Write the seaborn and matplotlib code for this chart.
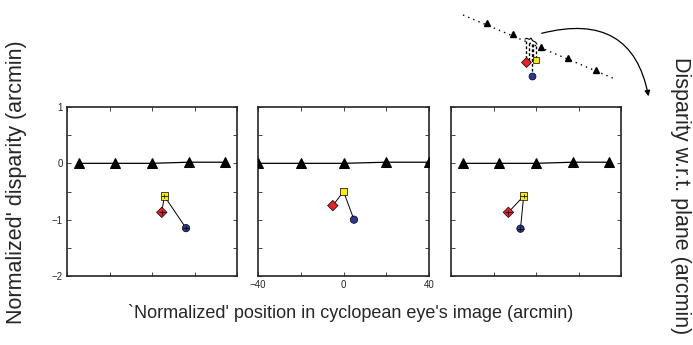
import numpy as np
import pandas as pd
import matplotlib
matplotlib.use("Agg")
import matplotlib.pyplot as plt
import seaborn as sns
from matplotlib.patches import FancyArrowPatch

sns.set_style("ticks")
plt.rcParams['font.family'] = ['Liberation Sans', 'DejaVu Sans']

# ---------------- data ----------------
panel_names = ["A", "B", "C"]
# reference triangles (x positions, normalized disparity)
tri_x = {"A": [-34.5, -17.3, 0.0, 17.3, 34.5],
         "B": [-40.0, -20.0, 0.0, 20.0, 40.0],
         "C": [-34.5, -17.3, 0.0, 17.3, 34.5]}
tri_y = {"A": [0.0, 0.0, 0.0, 0.02, 0.02],
         "B": [0.0, 0.0, 0.0, 0.02, 0.02],
         "C": [0.0, 0.0, 0.0, 0.02, 0.02]}
# target points: square (yellow), diamond (red), circle (blue)
sq_x = {"A": 5.8, "B": 0.0, "C": -5.8}
sq_y = {"A": -0.58, "B": -0.50, "C": -0.58}
di_x = {"A": 4.6, "B": -5.0, "C": -13.0}
di_y = {"A": -0.87, "B": -0.75, "C": -0.87}
ci_x = {"A": 16.0, "B": 4.9, "C": -7.3}
ci_y = {"A": -1.15, "B": -1.00, "C": -1.16}
# small error bars (panels A and C)
err_x = {"A": 1.5, "B": 0.0, "C": 1.5}
err_y = {"A": 0.04, "B": 0.0, "C": 0.04}

x_ticks = [-40, -20, 0, 20, 40]
x_ticklabels = ["\u221240", "", "0", "", "40"]
y_ticks = [1, 0.5, 0, -0.5, -1, -1.5, -2]
y_ticklabels = ["1", "", "0", "", "\u22121", "", "\u22122"]

xlabel = "`Normalized' position in cyclopean eye's image (arcmin)"
ylabel = "Normalized' disparity (arcmin)"
rlabel = "Disparity w.r.t. plane (arcmin)"

# schematic (inset) in its own pixel-like coordinates
sch_plane_x = [463, 615]
sch_plane_y = [15, 79]
sch_tri_x = [486.7, 513.3, 541.0, 568.3, 595.7]
sch_tri_y = [23.3, 34.3, 46.7, 58.3, 70.0]
sch_di = (525.7, 62.3)
sch_sq = (535.7, 60.3)
sch_ci = (532.0, 76.3)

YELLOW = "#f7e81c"
RED = "#e3222b"
BLUE = "#2b3990"

W, H = 693, 345
fig = plt.figure(figsize=(W / 100, H / 100), dpi=100)

boxes = {"A": (67, 107, 170, 169), "B": (258, 107, 171, 169), "C": (451, 107, 170, 169)}

for name in panel_names:
    l, t, w, h = boxes[name]
    ax = fig.add_axes([l / W, 1 - (t + h) / H, w / W, h / H])
    tri = pd.DataFrame({"x": tri_x[name], "y": tri_y[name]})
    sns.lineplot(data=tri, x="x", y="y", ax=ax, color="black", lw=0.9,
                 marker="^", markersize=6.5, markeredgecolor="black",
                 markerfacecolor="black", sort=False, zorder=3)
    ax.plot([sq_x[name], di_x[name]], [sq_y[name], di_y[name]], color="black", lw=0.7, zorder=2)
    ax.plot([sq_x[name], ci_x[name]], [sq_y[name], ci_y[name]], color="black", lw=0.7, zorder=2)
    pts = pd.DataFrame({"x": [sq_x[name], di_x[name], ci_x[name]],
                        "y": [sq_y[name], di_y[name], ci_y[name]],
                        "k": ["sq", "di", "ci"]})
    sns.scatterplot(data=pts, x="x", y="y", hue="k", style="k",
                    palette={"sq": YELLOW, "di": RED, "ci": BLUE},
                    markers={"sq": "s", "di": "D", "ci": "o"},
                    s=28, edgecolor="black", linewidth=0.5, legend=False, ax=ax, zorder=4)
    if err_x[name] > 0:
        ax.errorbar(pts["x"], pts["y"], xerr=err_x[name], yerr=err_y[name],
                    fmt="none", ecolor="black", elinewidth=0.5, capsize=0, zorder=5)
    ax.set_xlim(-40, 40)
    ax.set_ylim(-2, 1)
    ax.set_xticks(x_ticks)
    ax.set_yticks(y_ticks)
    ax.set_xticklabels(x_ticklabels if name == "B" else [""] * len(x_ticks))
    ax.set_yticklabels(y_ticklabels if name == "A" else [""] * len(y_ticks))
    ax.tick_params(direction="in", length=3, width=0.6, top=True, right=True,
                   labelsize=7, pad=3)
    ax.set_xlabel("")
    ax.set_ylabel("")
    for sp in ax.spines.values():
        sp.set_linewidth(1.2)
        sp.set_visible(True)

fig.text(351 / W, 1 - 313 / H, xlabel, ha="center", va="center", fontsize=13)
fig.text(17 / W, 1 - 182 / H, ylabel, ha="center", va="center", rotation=90, fontsize=15.5)
fig.text(680 / W, 1 - 196 / H, rlabel, ha="center", va="center", rotation=-90, fontsize=15.5)

# schematic inset
ins = fig.add_axes([440 / W, 1 - 110 / H, 253 / W, 110 / H])
ins.set_xlim(440, 693)
ins.set_ylim(110, 0)
ins.axis("off")
ins.plot(sch_plane_x, sch_plane_y, color="black", lw=1.0, ls=(0, (1, 3)))
ins.plot(sch_tri_x, sch_tri_y, ls="none", marker="^", color="black", markersize=5)
slope = (sch_plane_y[1] - sch_plane_y[0]) / (sch_plane_x[1] - sch_plane_x[0])
def plane_y(x):
    return sch_plane_y[0] + (x - sch_plane_x[0]) * slope
for (px, py) in [sch_di, (sch_di[0] + 3, sch_di[1]), sch_sq, (sch_sq[0] - 3, sch_sq[1]), sch_ci]:
    ins.plot([px, px], [plane_y(px), py], color="black", lw=1.0, ls=(0, (2, 1.5)), zorder=2)
ins.plot(*sch_di, marker="D", color=RED, markeredgecolor="black", markersize=5, mew=0.5, zorder=3)
ins.plot(*sch_sq, marker="s", color=YELLOW, markeredgecolor="black", markersize=5, mew=0.5, zorder=3)
ins.plot(*sch_ci, marker="o", color=BLUE, markeredgecolor="black", markersize=5, mew=0.5, zorder=3)
# brace
bx = np.linspace(525, 537, 25)
by = plane_y(bx) - 3.5 - 2.0 * np.exp(-((bx - 531) / 1.0) ** 2) + 1.5 * (np.exp(-((bx - 525) / 1.0) ** 2) + np.exp(-((bx - 537) / 1.0) ** 2))
ins.plot(bx, by, color="black", lw=0.8)
arrow = FancyArrowPatch((539, 34), (649, 99), connectionstyle="angle3,angleA=15,angleB=-80",
                        arrowstyle="-|>", mutation_scale=8, color="black", lw=0.9)
ins.add_patch(arrow)

fig.savefig("out.png", dpi=100)
